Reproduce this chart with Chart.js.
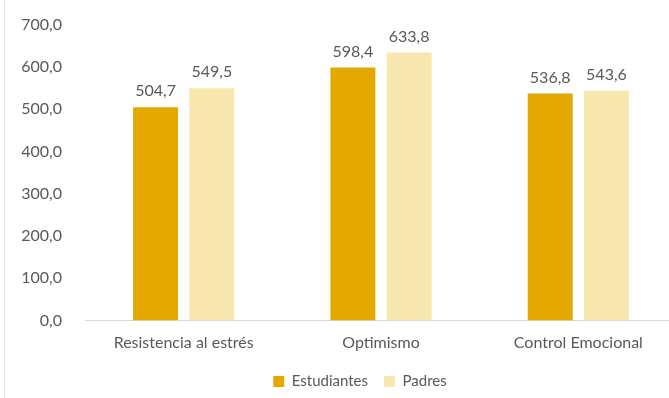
<!DOCTYPE html>
<html>
<head>
<meta charset="utf-8">
<script src="https://cdn.jsdelivr.net/npm/chart.js@4.4.0/dist/chart.umd.min.js"></script>
<style>
  html, body { margin: 0; padding: 0; background: #fff; }
  #wrap { position: relative; width: 669px; height: 398px; overflow: hidden; }
  #frame { position: absolute; left: 4px; top: 0; width: 1px; height: 398px; background: #e3e3e3; z-index: 1; }
  canvas { position: absolute; left: 0; top: 0; }
</style>
</head>
<body>
<div id="wrap">
  <div id="frame"></div>
  <canvas id="grafico" width="677" height="398"></canvas>
</div>
<script>
// Datos del gráfico
const categorias = ['Resistencia al estrés', 'Optimismo', 'Control Emocional'];
const estudiantes = [504.7, 598.4, 536.8];
const padres = [549.5, 633.8, 543.6];
const nombresSeries = ['Estudiantes', 'Padres'];

const fuente = 'Lato, "DejaVu Sans", sans-serif';
const grisTexto = '#595959';

function formatoComa(v) {
    return Number(v).toFixed(1).replace('.', ',');
}

// Etiquetas de valor encima de cada barra
const etiquetasBarras = {
    id: 'etiquetasBarras',
    afterDatasetsDraw(chart) {
        const ctx = chart.ctx;
        ctx.save();
        ctx.font = '16px ' + fuente;
        ctx.fillStyle = grisTexto;
        ctx.textAlign = 'center';
        ctx.textBaseline = 'bottom';
        chart.data.datasets.forEach((ds, i) => {
            chart.getDatasetMeta(i).data.forEach((bar, j) => {
                ctx.fillText(formatoComa(ds.data[j]), bar.x, bar.y - 8);
            });
        });
        ctx.restore();
    }
};

// La leyenda va centrada un poco más a la derecha, como en el original
const moverLeyenda = {
    id: 'moverLeyenda',
    afterLayout(chart) {
        if (chart.legend) chart.legend.left += 43;
    }
};

new Chart(document.getElementById('grafico'), {
    type: 'bar',
    data: {
        labels: categorias,
        datasets: [
            {
                label: nombresSeries[0],
                data: estudiantes,
                backgroundColor: '#E5A800'
            },
            {
                label: nombresSeries[1],
                data: padres,
                backgroundColor: '#F8E8AF'
            }
        ]
    },
    options: {
        responsive: false,
        animation: false,
        layout: { padding: { top: 7.5, right: 0, bottom: -1, left: 0 } },
        datasets: {
            bar: { categoryPercentage: 0.57, barPercentage: 0.8 }
        },
        scales: {
            x: {
                grid: { display: false },
                border: { display: true, color: '#d9d9d9', width: 1 },
                afterFit: (scale) => { scale.height = scale.height + 1.4; },
                ticks: { color: grisTexto, font: { family: fuente, size: 16 }, padding: 4.4 }
            },
            y: {
                min: 0,
                max: 700,
                grid: { display: false },
                border: { display: false },
                afterFit: (scale) => { scale.width = 85; },
                ticks: {
                    stepSize: 100,
                    color: grisTexto,
                    padding: 15,
                    font: { family: fuente, size: 16 },
                    callback: (v) => formatoComa(v)
                }
            }
        },
        plugins: {
            legend: {
                position: 'bottom',
                labels: {
                    boxWidth: 11,
                    boxHeight: 11,
                    color: grisTexto,
                    padding: 16,
                    font: { family: fuente, size: 15 }
                }
            },
            tooltip: { enabled: false }
        }
    },
    plugins: [etiquetasBarras, moverLeyenda]
});
</script>
</body>
</html>
